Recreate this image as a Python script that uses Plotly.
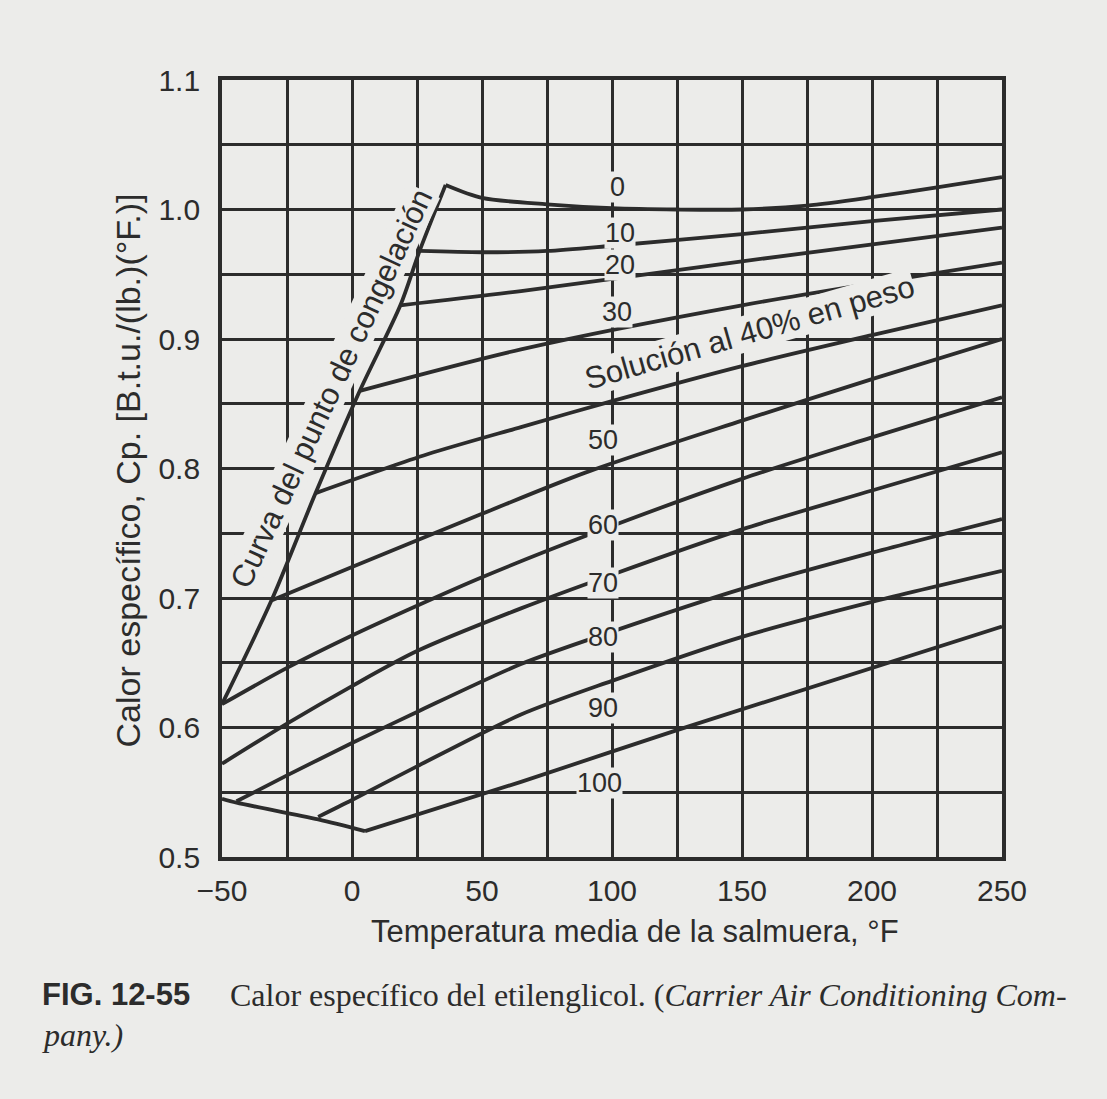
import plotly.graph_objects as go

# ---- data ----
x_ticks = [-50, 0, 50, 100, 150, 200, 250]
y_ticks = [0.5, 0.6, 0.7, 0.8, 0.9, 1.0, 1.1]

# freezing-point curve (upper branch, 0% .. 60%)
fp_t = [36, 26, 18.6, 3, -14, -31, -50]
fp_cp = [1.019, 0.968, 0.926, 0.860, 0.781, 0.698, 0.618]
# freezing-point curve (lower branch, 80% .. 100%)
fl_t = [-50, -44.4, -13, 5]
fl_cp = [0.545, 0.542, 0.529, 0.520]

conc_labels = ["0", "10", "20", "30", "50", "60", "70", "80", "90", "100"]

t_0 = [36, 50, 75, 100, 125, 150, 175, 200, 225, 250]
cp_0 = [1.019, 1.009, 1.004, 1.001, 1.000, 1.000, 1.003, 1.0095, 1.017, 1.025]
t_10 = [26, 50, 75, 100, 150, 200, 250]
cp_10 = [0.968, 0.967, 0.968, 0.972, 0.981, 0.991, 1.000]
t_20 = [18.6, 65, 150, 250]
cp_20 = [0.926, 0.937, 0.960, 0.986]
t_30 = [3, 65, 150, 250]
cp_30 = [0.860, 0.892, 0.926, 0.959]
t_40 = [-14, 29, 65, 100, 150, 200, 250]
cp_40 = [0.781, 0.811, 0.832, 0.852, 0.879, 0.903, 0.926]
t_50 = [-31, 0, 50, 90, 150, 200, 250]
cp_50 = [0.698, 0.724, 0.765, 0.797, 0.837, 0.869, 0.900]
t_60 = [-50, -25, 0, 25, 50, 90, 150, 200, 250]
cp_60 = [0.618, 0.646, 0.671, 0.694, 0.716, 0.748, 0.792, 0.824, 0.855]
t_70 = [-50, -25, 0, 25, 65, 100, 150, 200, 250]
cp_70 = [0.572, 0.603, 0.632, 0.659, 0.692, 0.718, 0.753, 0.783, 0.8125]
t_80 = [-44.4, -25, 0, 25, 65, 100, 150, 200, 250]
cp_80 = [0.543, 0.563, 0.588, 0.612, 0.649, 0.674, 0.707, 0.735, 0.761]
t_90 = [-13, 0, 25, 65, 100, 150, 200, 250]
cp_90 = [0.531, 0.544, 0.570, 0.610, 0.636, 0.670, 0.697, 0.721]
t_100 = [5, 65, 125, 250]
cp_100 = [0.520, 0.558, 0.598, 0.678]

label_t = [102, 103, 103, 102, 96.5, 96.5, 96.5, 96.5, 96.5, 95]
label_cp = [1.0174, 0.982, 0.957, 0.921, 0.822, 0.756, 0.7116, 0.670, 0.615, 0.557]

INK = "#2c2c2c"
BG = "#ececea"

series = [
    (fp_t, fp_cp), (fl_t, fl_cp),
    (t_0, cp_0), (t_10, cp_10), (t_20, cp_20), (t_30, cp_30), (t_40, cp_40),
    (t_50, cp_50), (t_60, cp_60), (t_70, cp_70), (t_80, cp_80), (t_90, cp_90),
    (t_100, cp_100),
]

fig = go.Figure()
for xs, ys in series:
    fig.add_trace(go.Scatter(x=xs, y=ys, mode="lines",
                             line=dict(color=INK, width=3.8, shape="spline", smoothing=0.8),
                             showlegend=False, hoverinfo="skip"))

sans = "Liberation Sans, Arial, Helvetica, sans-serif"
serif = "Liberation Serif, Times New Roman, serif"

for lab, lt, lc in zip(conc_labels, label_t, label_cp):
    fig.add_annotation(x=lt, y=lc, text=lab, showarrow=False,
                       font=dict(family=sans, size=27, color=INK),
                       bgcolor=BG, borderpad=0)

fig.add_annotation(x=-8, y=0.862, text="Curva del punto de congelación", showarrow=False,
                   textangle=-65, font=dict(family=sans, size=31, color=INK),
                   bgcolor=BG, borderpad=0)
fig.add_annotation(x=153, y=0.905, text="Solución al 40% en peso", showarrow=False,
                   textangle=-16, font=dict(family=sans, size=31, color=INK),
                   bgcolor=BG, borderpad=0)

# axis titles
fig.add_annotation(xref="paper", yref="paper", x=0.5295, y=-0.0965,
                   xanchor="center", yanchor="middle",
                   text="Temperatura media de la salmuera, °F", showarrow=False,
                   font=dict(family=sans, size=31, color=INK))
fig.add_annotation(xref="paper", yref="paper", x=-0.12, y=0.498,
                   xanchor="center", yanchor="middle",
                   text="Calor específico, Cp. [B.t.u./(lb.)(°F.)]", showarrow=False,
                   textangle=-90, font=dict(family=sans, size=34, color=INK))

# caption
fig.add_annotation(xref="paper", yref="paper", x=-0.2333, y=-0.1776,
                   xanchor="left", yanchor="middle",
                   text="<b>FIG. 12-55</b>", showarrow=False,
                   font=dict(family=sans, size=31, color=INK))
fig.add_annotation(xref="paper", yref="paper", x=0.0077, y=-0.1776,
                   xanchor="left", yanchor="middle",
                   text="Calor específico del etilenglicol. (<i>Carrier Air Conditioning Com-</i>",
                   showarrow=False, font=dict(family=serif, size=32, color=INK))
fig.add_annotation(xref="paper", yref="paper", x=-0.2333, y=-0.229,
                   xanchor="left", yanchor="middle",
                   text="<i>pany.)</i>", showarrow=False,
                   font=dict(family=serif, size=32, color=INK))

fig.update_xaxes(range=[-50, 250], tickvals=x_ticks, ticks="", ticklabelstandoff=4,
                 tickfont=dict(family=sans, size=30, color=INK),
                 showgrid=True, gridcolor=INK, gridwidth=2.8,
                 minor=dict(dtick=25, tick0=-50, showgrid=True, gridcolor=INK, gridwidth=2.8),
                 showline=True, linecolor=INK, linewidth=3.8, mirror=True, zeroline=False)
fig.update_yaxes(range=[0.5, 1.1], tickvals=y_ticks, tickformat=".1f", ticks="",
                 ticklabelstandoff=12,
                 tickfont=dict(family=sans, size=30, color=INK),
                 showgrid=True, gridcolor=INK, gridwidth=2.8,
                 minor=dict(dtick=0.05, tick0=0.5, showgrid=True, gridcolor=INK, gridwidth=2.8),
                 showline=True, linecolor=INK, linewidth=3.8, mirror=True, zeroline=False)

fig.update_layout(width=1107, height=1099,
                  margin=dict(l=222, r=105, t=80, b=242),
                  paper_bgcolor=BG, plot_bgcolor=BG, showlegend=False)

fig.write_html("out.html", config={"displayModeBar": False},
               post_script="document.body.style.margin='0';document.body.style.background='#ececea';")
